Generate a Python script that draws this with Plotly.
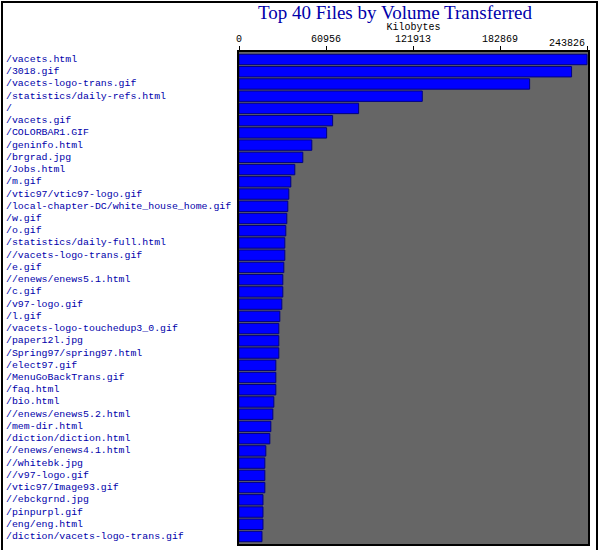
import plotly.graph_objects as go

files = ["/vacets.html", "/3018.gif", "/vacets-logo-trans.gif", "/statistics/daily-refs.html", "/",
         "/vacets.gif", "/COLORBAR1.GIF", "/geninfo.html", "/brgrad.jpg", "/Jobs.html",
         "/m.gif", "/vtic97/vtic97-logo.gif", "/local-chapter-DC/white_house_home.gif", "/w.gif", "/o.gif",
         "/statistics/daily-full.html", "//vacets-logo-trans.gif", "/e.gif", "//enews/enews5.1.html", "/c.gif",
         "/v97-logo.gif", "/l.gif", "/vacets-logo-touchedup3_0.gif", "/paper12l.jpg", "/Spring97/spring97.html",
         "/elect97.gif", "/MenuGoBackTrans.gif", "/faq.html", "/bio.html", "//enews/enews5.2.html",
         "/mem-dir.html", "/diction/diction.html", "//enews/enews4.1.html", "//whitebk.jpg", "//v97-logo.gif",
         "/vtic97/Image93.gif", "//ebckgrnd.jpg", "/pinpurpl.gif", "/eng/eng.html", "/diction/vacets-logo-trans.gif"]
kilobytes = [243826, 233000, 203600, 128400, 83800, 65600, 61400, 51000, 44700, 39100,
             36300, 34900, 34200, 33500, 32800, 32100, 32100, 31400, 30700, 30700,
             30000, 28600, 27900, 27900, 27900, 25800, 25800, 25800, 24400, 23700,
             22300, 21600, 18800, 18100, 18100, 18100, 16800, 16800, 16800, 16100]
tick_vals = [0, 60956, 121913, 182869, 243826]

L, R, T, B = 239, 12, 52, 6
pw, ph = 600 - L - R, 550 - T - B
mono = "Liberation Mono"

fig = go.Figure(go.Bar(
    x=kilobytes, y=files, orientation="h",
    marker=dict(color="#0000ff", line=dict(color="#000080", width=1)),
))

for f in files:
    fig.add_annotation(x=(4 - L) / pw, xref="paper", y=f, yref="y", text=f,
                       showarrow=False, xanchor="left",
                       font=dict(family=mono, size=9.9, color="#0000aa"))

# last tick label sits right-aligned at the plot edge
fig.add_annotation(x=tick_vals[-1], xref="x", y=1, yref="paper", yshift=9, text=str(tick_vals[-1]),
                   showarrow=False, xanchor="right", yanchor="middle",
                   font=dict(family=mono, size=10, color="black"))

fig.add_shape(type="rect", xref="paper", yref="paper",
              x0=(2 - L) / pw, x1=(597 - L) / pw, y0=(ph - 545) / ph, y1=(ph + T - 2) / ph,
              line=dict(color="black", width=2))

fig.update_layout(
    width=600, height=550, margin=dict(l=L, r=R, t=T, b=B),
    paper_bgcolor="white", plot_bgcolor="#666666",
    bargap=0.15, showlegend=False,
    title=dict(text="Top 40 Files by Volume Transferred", x=395 / 600, xanchor="center",
               y=1 - 12 / 550, yanchor="middle",
               font=dict(family="Liberation Serif", size=19, color="#0000aa")),
    xaxis=dict(side="top", range=[0, 244500], tickvals=tick_vals,
               ticktext=[str(v) for v in tick_vals[:-1]] + [""],
               automargin=False,
               showgrid=False, zeroline=False, ticks="outside", ticklen=4, tickcolor="black",
               title=dict(text="Kilobytes", font=dict(family=mono, size=10, color="black"), standoff=2),
               tickfont=dict(family=mono, size=10, color="black"),
               showline=True, linecolor="black", linewidth=2, mirror=True),
    yaxis=dict(autorange="reversed", showticklabels=False, showgrid=False, ticks="", automargin=False,
               showline=True, linecolor="black", linewidth=2, mirror=True),
)

fig.write_html("out.html", config={"displayModeBar": False},
               post_script="document.body.style.margin='0';document.body.style.overflow='hidden';")
